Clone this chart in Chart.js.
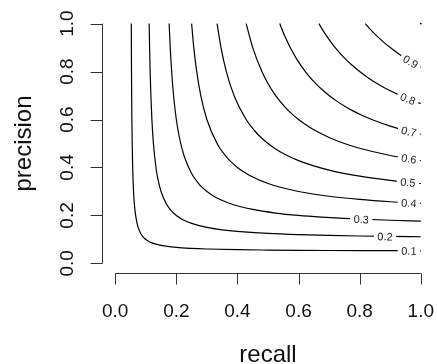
<!DOCTYPE html>
<html><head><meta charset="utf-8">
<script src="https://cdn.jsdelivr.net/npm/chart.js@4/dist/chart.umd.min.js"></script>
<style>html,body{margin:0;padding:0;background:#fff;overflow:hidden}</style>
</head><body>
<canvas id="c" width="437" height="364"></canvas>
<script>
// iso-F1 contour levels and the curves (recall, precision)
const levelLabels = ['0.1','0.2','0.3','0.4','0.5','0.6','0.7','0.8','0.9'];

const recall_01    = [0.0526,0.0529,0.0533,0.0538,0.0545,0.0556,0.0571,0.06,0.0625,0.0667,0.075,0.0833,0.0917,0.0955,0.1,0.105,0.11,0.125,0.15,0.2,0.25,0.3,0.4,0.5,0.6,0.7,0.8,0.9,1.0];
const precision_01 = [1.0,0.9,0.8,0.7,0.6,0.5,0.4,0.3,0.25,0.2,0.15,0.125,0.11,0.105,0.1,0.0955,0.0917,0.0833,0.075,0.0667,0.0625,0.06,0.0571,0.0556,0.0545,0.0538,0.0533,0.0529,0.0526];

const recall_02    = [0.1111,0.1125,0.1143,0.1167,0.12,0.125,0.1333,0.14,0.15,0.1667,0.1833,0.1909,0.2,0.21,0.22,0.25,0.3,0.35,0.4,0.5,0.6,0.7,0.8,0.9,1.0];
const precision_02 = [1.0,0.9,0.8,0.7,0.6,0.5,0.4,0.35,0.3,0.25,0.22,0.21,0.2,0.1909,0.1833,0.1667,0.15,0.14,0.1333,0.125,0.12,0.1167,0.1143,0.1125,0.1111];

const recall_03    = [0.1765,0.18,0.1875,0.1929,0.2,0.21,0.225,0.25,0.275,0.2864,0.3,0.315,0.33,0.375,0.45,0.525,0.6,0.675,0.75,0.9,1.0];
const precision_03 = [1.0,0.9,0.75,0.675,0.6,0.525,0.45,0.375,0.33,0.315,0.3,0.2864,0.275,0.25,0.225,0.21,0.2,0.1929,0.1875,0.18,0.1765];

const recall_04    = [0.25,0.2571,0.2667,0.28,0.3,0.3333,0.3667,0.3818,0.4,0.42,0.44,0.5,0.6,0.7,0.8,0.9,1.0];
const precision_04 = [1.0,0.9,0.8,0.7,0.6,0.5,0.44,0.42,0.4,0.3818,0.3667,0.3333,0.3,0.28,0.2667,0.2571,0.25];

const recall_05    = [0.3333,0.3462,0.3636,0.3889,0.4286,0.4583,0.4773,0.5,0.525,0.55,0.6,0.7,0.8,0.9,1.0];
const precision_05 = [1.0,0.9,0.8,0.7,0.6,0.55,0.525,0.5,0.4773,0.4583,0.4286,0.3889,0.3636,0.3462,0.3333];

const recall_06    = [0.4286,0.45,0.48,0.5,0.525,0.5571,0.5727,0.6,0.63,0.65,0.7,0.75,0.8,0.9,1.0];
const precision_06 = [1.0,0.9,0.8,0.75,0.7,0.65,0.63,0.6,0.5727,0.5571,0.525,0.5,0.48,0.45,0.4286];

const recall_07    = [0.5385,0.5542,0.5727,0.595,0.6222,0.6382,0.6563,0.6767,0.7,0.725,0.75,0.775,0.8,0.85,0.9,0.95,1.0];
const precision_07 = [1.0,0.95,0.9,0.85,0.8,0.775,0.75,0.725,0.7,0.6767,0.6563,0.6382,0.6222,0.595,0.5727,0.5542,0.5385];

const recall_08    = [0.6667,0.6783,0.6909,0.7048,0.72,0.7368,0.7556,0.7765,0.8,0.825,0.85,0.875,0.9,0.925,0.95,0.975,1.0];
const precision_08 = [1.0,0.975,0.95,0.925,0.9,0.875,0.85,0.825,0.8,0.7765,0.7556,0.7368,0.72,0.7048,0.6909,0.6783,0.6667];

const recall_09    = [0.8182,0.8357,0.855,0.8763,0.9,0.925,0.95,0.975,1.0];
const precision_09 = [1.0,0.975,0.95,0.925,0.9,0.8763,0.855,0.8357,0.8182];

const recall_10    = [1.0];
const precision_10 = [1.0];

const tickValues = [0, 0.2, 0.4, 0.6, 0.8, 1.0];
const tickLabels = ['0.0','0.2','0.4','0.6','0.8','1.0'];
const xTitle = 'recall';
const yTitle = 'precision';

// where each contour label sits along its curve (recall value)
const labelRecall = [0.961, 0.883, 0.805, 0.961, 0.958, 0.961, 0.961, 0.958, 0.967];

const curves = [
  [recall_01, precision_01],[recall_02, precision_02],[recall_03, precision_03],
  [recall_04, precision_04],[recall_05, precision_05],[recall_06, precision_06],
  [recall_07, precision_07],[recall_08, precision_08],[recall_09, precision_09]
];

const toPts = (xs, ys) => xs.map((x, i) => ({x: x, y: ys[i]}));

const datasets = curves.map((c, i) => ({
  label: levelLabels[i],
  data: toPts(c[0], c[1]),
  showLine: true,
  borderColor: '#000',
  borderWidth: 1.2,
  pointRadius: 0,
  cubicInterpolationMode: 'monotone',
  fill: false
}));
datasets.push({
  label: '1.0',
  data: toPts(recall_10, precision_10),
  showLine: false,
  pointRadius: 0.9,
  pointBackgroundColor: '#000',
  pointBorderWidth: 0
});

const FONT = '"Liberation Sans", Arial, Helvetica, sans-serif';

const rPlot = {
  id: 'rPlot',
  afterDatasetsDraw(chart) {
    const ctx = chart.ctx;
    const xs = chart.scales.x, ys = chart.scales.y;
    ctx.save();
    ctx.font = '11px ' + FONT;
    ctx.textAlign = 'center';
    ctx.textBaseline = 'middle';
    curves.forEach((c, i) => {
      const rx = c[0], py = c[1];
      const r = labelRecall[i];
      let k = 0;
      while (k < rx.length - 2 && rx[k + 1] < r) k++;
      const x0 = xs.getPixelForValue(rx[k]), y0 = ys.getPixelForValue(py[k]);
      const x1 = xs.getPixelForValue(rx[k + 1]), y1 = ys.getPixelForValue(py[k + 1]);
      const px = xs.getPixelForValue(r);
      const t = (px - x0) / (x1 - x0);
      const pyy = y0 + t * (y1 - y0);
      const ang = Math.atan2(y1 - y0, x1 - x0);
      const txt = levelLabels[i];
      const tw = ctx.measureText(txt).width;
      ctx.save();
      ctx.translate(px, pyy);
      ctx.rotate(ang);
      ctx.fillStyle = '#fff';
      ctx.fillRect(-tw / 2 - 3.5, -4, tw + 7, 8);
      ctx.fillStyle = '#222';
      ctx.fillText(txt, 0, 1);
      ctx.restore();
    });
    ctx.restore();
  },
  afterDraw(chart) {
    const ctx = chart.ctx;
    const xs = chart.scales.x, ys = chart.scales.y;
    const ca = chart.chartArea;
    ctx.save();
    ctx.strokeStyle = '#333';
    ctx.lineWidth = 1;
    // y axis
    const ax = Math.round(ca.left) - 0.5;
    ctx.beginPath();
    ctx.moveTo(ax, ys.getPixelForValue(tickValues[0]));
    ctx.lineTo(ax, ys.getPixelForValue(tickValues[tickValues.length - 1]));
    tickValues.forEach(v => {
      const p = Math.round(ys.getPixelForValue(v)) + 0.5;
      ctx.moveTo(ax, p); ctx.lineTo(ax - 12, p);
    });
    ctx.stroke();
    // x axis
    const ay = Math.round(ca.bottom) + 0.5;
    ctx.beginPath();
    ctx.moveTo(xs.getPixelForValue(tickValues[0]), ay);
    ctx.lineTo(xs.getPixelForValue(tickValues[tickValues.length - 1]), ay);
    tickValues.forEach(v => {
      const p = Math.round(xs.getPixelForValue(v)) + 0.5;
      ctx.moveTo(p, ay); ctx.lineTo(p, ay + 11);
    });
    ctx.stroke();
    // tick labels
    ctx.fillStyle = '#111';
    ctx.font = '19px ' + FONT;
    ctx.textAlign = 'center';
    ctx.textBaseline = 'alphabetic';
    tickValues.forEach((v, i) => {
      ctx.fillText(tickLabels[i], xs.getPixelForValue(v), 317);
      ctx.save();
      ctx.translate(73, ys.getPixelForValue(v));
      ctx.rotate(-Math.PI / 2);
      ctx.fillText(tickLabels[i], 0, 0);
      ctx.restore();
    });
    // titles
    ctx.font = '24px ' + FONT;
    ctx.fillText(xTitle, (xs.getPixelForValue(0) + xs.getPixelForValue(1)) / 2, 362);
    ctx.save();
    ctx.translate(31, (ys.getPixelForValue(0) + ys.getPixelForValue(1)) / 2);
    ctx.rotate(-Math.PI / 2);
    ctx.fillText(yTitle, 0, 0);
    ctx.restore();
    ctx.restore();
  }
};

new Chart(document.getElementById('c'), {
  type: 'scatter',
  data: { datasets: datasets },
  options: {
    responsive: false,
    animation: false,
    devicePixelRatio: 1,
    layout: { padding: { left: 103, right: 3, top: 14, bottom: 91 } },
    plugins: { legend: { display: false }, tooltip: { enabled: false } },
    scales: {
      x: { type: 'linear', min: -0.04, max: 1.04, display: false },
      y: { type: 'linear', min: -0.04, max: 1.04, display: false }
    }
  },
  plugins: [rPlot]
});
</script>
</body></html>
